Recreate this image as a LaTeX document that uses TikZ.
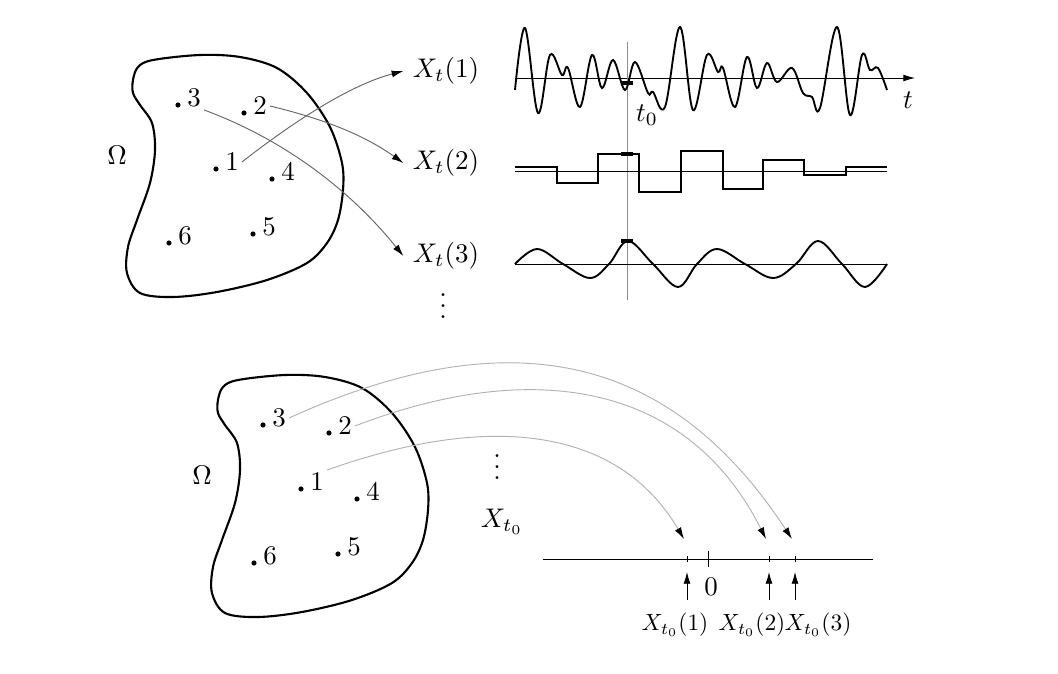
\documentclass[tikz,border=0pt]{standalone}
\usetikzlibrary{arrows.meta}
\begin{document}
\begin{tikzpicture}[x=0.015cm,y=-0.015cm,
    big/.style={scale=1.15},
    tip/.style={-{Latex[length=5pt,width=3pt,color=black]}},
    maparrow/.style={tip,draw=black!60},
    farrow/.style={tip,draw=black!30},
    num/.style={big,inner sep=1pt},
    dots/.style={big,inner sep=0pt,text height=9pt,text depth=0pt},
    signal/.style={line width=0.8pt},
    tzero/.style={line width=1.8pt}]
    \useasboundingbox (0,0) rectangle (1058,674);
    \foreach \s/\dx/\dy in {a/0/0,b/85/320}{
    \begin{scope}[shift={(\dx,\dy)}]
        \draw[line width=0.9pt] plot[smooth cycle,tension=0.55] coordinates {(133,80) (138,67) (153,60) (200,55) (240,57) (277,68) (307,93) (330,127) (342,163) (343,190) (338,220) (327,243) (307,263) (267,280) (217,292) (173,297) (140,293) (127,273) (128,247) (137,220) (150,183) (155,150) (152,123) (140,105) (133,93)};
        \node[big] (\s-om) at (117,155) {$\Omega$};
        \foreach \n/\x/\y in {1/216/169,2/244/113,3/178/105,4/272/179,5/253/234,6/169/243}{
            \fill (\x,\y) circle[radius=1.1pt];
            \node[num] (\s\n) at (\x+16,\y-7) {$\n$};
        }
    \end{scope}
    }
    \node[big] (x1) at (446,71) {$X_t(1)$};
    \node[big] (x2) at (446,163) {$X_t(2)$};
    \node[big] (x3) at (446,256) {$X_t(3)$};
    \node[dots] (vd) at (443,306) {$\vdots$};
    \draw[maparrow] (a1.east) .. controls (293,122) and (350,85) .. (x1.west);
    \draw[maparrow] (a2.east) .. controls (324,119) and (364,135) .. (x2.west);
    \draw[maparrow] (a3.south east) .. controls (285,140) and (350,190) .. (x3.west);
    \draw[-{Latex[length=5pt,width=3pt]}] (515,78) -- (915,78);
    \node[big] (tlab) at (908,100) {$t$};
    \draw[black!45] (627,42) -- (627,300);
    \node[big] (t0lab) at (647,115) {$t_0$};
    \draw[signal] plot[smooth,tension=0.6] coordinates {(515,90) (525,28) (538,113) (550,55) (562,75) (568,68) (580,107) (592,55) (602,88) (613,60) (625,90) (635,62) (648,93) (653,92) (665,107) (680,27) (693,110) (707,55) (718,72) (723,68) (735,107) (747,57) (757,88) (767,63) (777,82) (792,68) (803,93) (812,97) (820,108) (837,27) (850,115) (862,55) (870,70) (878,68) (887,90)};
    \draw[tzero] (621,83) -- (633,83);
    \draw (515,171) -- (887,171);
    \draw[line width=0.6pt] (515,167) -| (557,183) -| (598,154) -| (639,192) -| (681,151) -| (723,189) -| (763,160) -| (804,175) -| (846,167) -- (887,167);
    \draw[tzero] (621,154) -- (633,154);
    \draw (515,264) -- (887,264);
    \draw[signal] plot[smooth,tension=0.6] coordinates {(515,264) (537,249) (563,264) (590,278) (609,264) (628,241) (653,264) (678,287) (697,264) (717,249) (745,264) (773,278) (796,264) (818,241) (842,264) (865,287) (887,264)};
    \draw[tzero] (621,241) -- (633,241);
    \node[dots] (bvd) at (497,467) {$\vdots$};
    \node[big] (xt0) at (502,522) {$X_{t_0}$};
    \draw (543,559) -- (873,559);
    \foreach \i/\x in {1/687,2/769,3/795}{
        \coordinate (v\i) at (\x,559);
        \coordinate (h\i) at (\x-3,539);
        \coordinate (u\i) at (\x,600);
        \draw (\x,556) -- (\x,562);
        \draw[tip] (u\i) -- (\x,572);
    }
    \draw (708,551) -- (708,567);
    \node[big] (zero) at (711,587) {$0$};
    \node (l1) at (675,625) {$X_{t_0}(1)$};
    \node (l2) at (752,625) {$X_{t_0}(2)$};
    \node (l3) at (818,625) {$X_{t_0}(3)$};
    \draw[farrow] (b1.north east) .. controls (490,412) and (618,427) .. (h1);
    \draw[farrow] (b2.east) .. controls (526,360) and (685,378) .. (h2);
    \draw[farrow] (b3.east) .. controls (510,318) and (670,353) .. (h3);
\end{tikzpicture}
\end{document}
